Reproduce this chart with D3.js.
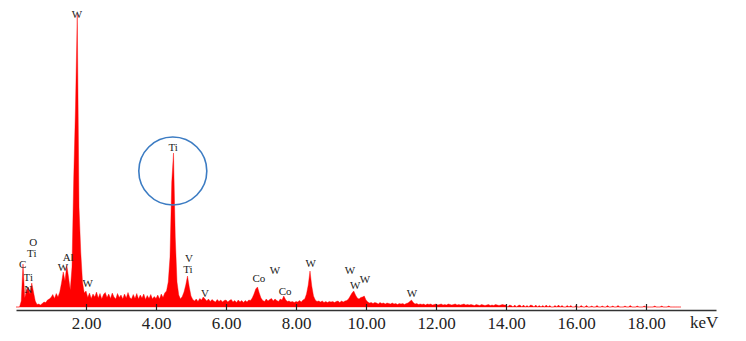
<!DOCTYPE html>
<html>
<head>
<meta charset="utf-8">
<script src="https://cdn.jsdelivr.net/npm/d3@7"></script>
<style>
  body { margin: 0; background: #fff; }
  svg { display: block; }
</style>
</head>
<body>
<svg id="eds_chart" width="746" height="341"></svg>
<script>
// EDS spectrum, one value every 0.05 keV starting at 0.00 keV (one row = 1 keV)
const kevStep = 0.05;
const counts = [
  0, 0, 0, 60, 430, 90, 170, 200, 130, 240, 150, 60, 25, 30, 20, 35, 50, 45, 70, 80,
  95, 125, 85, 135, 100, 150, 240, 350, 260, 420, 300, 170, 400, 1300, 2000, 2930, 1000, 550, 250, 140,
  160, 95, 140, 85, 130, 100, 150, 90, 135, 80, 125, 145, 95, 130, 85, 140, 100, 80, 135, 95,
  120, 80, 130, 90, 145, 95, 80, 125, 85, 135, 80, 120, 90, 130, 75, 115, 85, 125, 80, 105,
  85, 120, 80, 130, 95, 140, 160, 250, 500, 1250, 1540, 700, 250, 120, 80, 105, 150, 220, 310, 200,
  110, 75, 60, 80, 55, 85, 70, 100, 80, 60, 80, 55, 75, 60, 50, 75, 55, 70, 50, 65,
  70, 50, 65, 75, 50, 65, 45, 70, 50, 65, 45, 65, 50, 70, 65, 90, 130, 180, 200, 140,
  90, 65, 55, 80, 60, 75, 85, 60, 80, 65, 55, 80, 70, 110, 75, 55, 60, 50, 55, 45,
  55, 50, 65, 50, 70, 80, 130, 220, 360, 210, 110, 70, 55, 60, 50, 60, 45, 55, 45, 55,
  50, 55, 45, 55, 60, 45, 60, 50, 60, 65, 80, 110, 140, 160, 120, 90, 80, 95, 100, 110,
  70, 50, 40, 45, 35, 45, 40, 30, 45, 35, 40, 30, 40, 35, 30, 40, 30, 35, 25, 35,
  30, 35, 25, 35, 40, 55, 70, 45, 30, 35, 25, 30, 25, 30, 20, 30, 25, 30, 20, 25,
  30, 20, 25, 30, 20, 25, 20, 30, 25, 20, 25, 30, 20, 25, 20, 25, 30, 20, 25, 20,
  25, 20, 15, 25, 20, 15, 25, 20, 15, 20, 25, 15, 20, 15, 25, 20, 15, 20, 25, 20,
  20, 0, 20, 15, 0, 20, 0, 15, 20, 0, 20, 0, 15, 0, 20, 15, 0, 20, 0, 15,
  0, 15, 0, 20, 0, 15, 0, 0, 15, 0, 20, 0, 15, 0, 0, 15, 0, 15, 0, 0,
  15, 0, 0, 15, 0, 0, 15, 0, 0, 10, 0, 0, 15, 0, 0, 10, 0, 0, 15, 0,
  0, 10, 0, 0, 15, 0, 0, 0, 10, 0, 0, 15, 0, 0, 0, 10, 0, 0, 0, 10,
  0, 0, 0, 0, 0, 10, 0, 0, 0, 10, 0, 0, 0, 10, 0, 0, 0, 0, 0, 0,
  0
];

// x axis ticks (keV)
const tickKev = [2, 4, 6, 8, 10, 12, 14, 16, 18];

// peak labels: text, position in keV, label baseline in counts
const labelText = ["C", "O", "Ti", "Ti", "N", "Al", "W", "W", "W", "Ti", "V", "Ti", "V",
                   "Co", "W", "Co", "W", "W", "W", "W", "W"];
const labelKev = [0.19, 0.49, 0.45, 0.35, 0.35, 1.49, 1.34, 1.74, 2.05, 4.49, 4.94, 4.91, 5.40,
                  6.94, 7.40, 7.69, 8.42, 9.54, 9.69, 9.97, 11.31];
const labelCounts = [390, 610, 500, 260, 140, 460, 360, 2890, 200, 1560, 450, 340, 100,
                     250, 330, 120, 400, 330, 180, 240, 100];

// highlighted Ti peak
const circleKev = 4.48;
const circleCounts = 1360;

let svg = d3.select("#eds_chart");

let xscale = d3.scaleLinear().domain([0, 20]).range([16, 716]);
let yscale = d3.scaleLinear().domain([0, 3000]).range([307, 7]);

let spectrum = counts.map((c, i) => ({ kev: i * kevStep, value: c }));

//#region spectrum
svg.append("path")
    .datum(spectrum)
    .attr("fill", "#ff0000")
    .attr("stroke", "#ff0000")
    .attr("stroke-width", 0.4)
    .attr("d", d3.area()
        .x(d => xscale(d.kev))
        .y0(yscale(0))
        .y1(d => yscale(d.value))
    );
//#endregion spectrum

//#region axis
let xAxis = d3.axisBottom(xscale)
    .tickValues(tickKev)
    .tickFormat(d3.format(".2f"))
    .tickSizeInner(-6)
    .tickSizeOuter(0)
    .tickPadding(7);

let gx = svg.append("g")
    .attr("transform", "translate(0,310)")
    .call(xAxis);

gx.select(".domain")
    .attr("stroke", "#333")
    .attr("stroke-width", 1.5);
gx.selectAll(".tick line")
    .attr("stroke", "#222")
    .attr("stroke-width", 1.2);
gx.selectAll(".tick text")
    .attr("fill", "#222")
    .style("font-family", "'Liberation Serif', 'Times New Roman', serif")
    .style("font-size", "17px");

svg.append("text")
    .attr("x", 690)
    .attr("y", 328)
    .attr("fill", "#222")
    .style("font-family", "'Liberation Serif', 'Times New Roman', serif")
    .style("font-size", "17px")
    .text("keV");
//#endregion axis

//#region labels
svg.append("g")
    .selectAll("text")
    .data(labelText)
    .join("text")
    .attr("x", (d, i) => xscale(labelKev[i]))
    .attr("y", (d, i) => yscale(labelCounts[i]))
    .attr("text-anchor", "middle")
    .attr("fill", "#222")
    .style("font-family", "'Liberation Serif', 'Times New Roman', serif")
    .style("font-size", "11px")
    .text(d => d);

svg.append("circle")
    .attr("cx", xscale(circleKev))
    .attr("cy", yscale(circleCounts))
    .attr("r", 34)
    .attr("fill", "none")
    .attr("stroke", "#3c7cc3")
    .attr("stroke-width", 1.6);
//#endregion labels
</script>
</body>
</html>
